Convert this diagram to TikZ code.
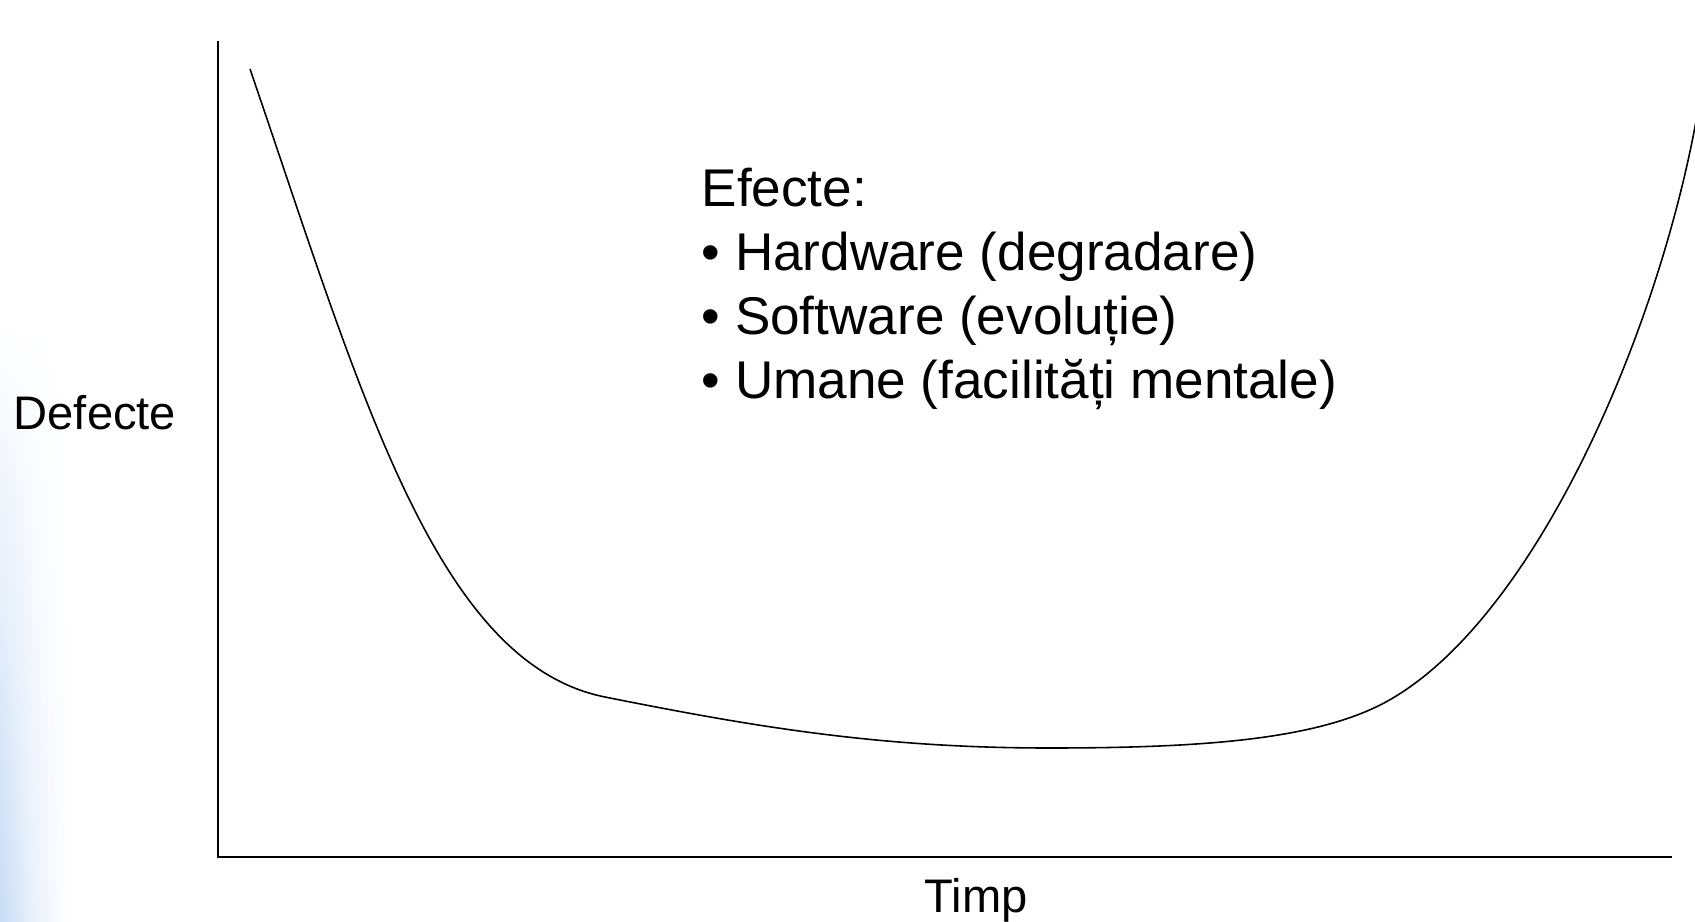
\documentclass[tikz,border=0pt]{standalone}
\usepackage{fontspec}
\setmainfont{Liberation Sans}
\usetikzlibrary{fadings}
\tikzfading[name=fadeup, top color=transparent!100, bottom color=transparent!0]
\definecolor{slideblue}{RGB}{200,219,244}
\begin{document}
\begin{tikzpicture}[x=0.01cm,y=-0.01cm,
  axis/.style={line width=0.7pt},
  curvestyle/.style={line width=0.45pt},
  axlabel/.style={inner sep=0pt, font=\fontsize{13.4}{15}\selectfont},
  listitem/.style={inner sep=0pt, anchor=base west, font=\fontsize{15.1}{18}\selectfont}]
\useasboundingbox (0,0) rectangle (1695,922);
% slide background fade at left edge
\shade[left color=slideblue, right color=white, middle color=slideblue!35, path fading=fadeup] (0,320) rectangle (70,922);
% axes
\coordinate (otop) at (218,41);
\coordinate (o) at (218,857);
\coordinate (xend) at (1672,857);
\draw[axis] (otop) -- (o) -- (xend);
% labels
\node[axlabel, anchor=base west] (ylab) at (13,430) {Defecte};
\node[axlabel, anchor=base west] (xlab) at (924,912) {Timp};
% list
\node[listitem] (l0) at (701,207) {Efecte:};
\node[listitem] (l1) at (701,271) {• Hardware (degradare)};
\node[listitem] (l2) at (701,335) {• Software (evoluție)};
\node[listitem] (l3) at (701,399) {• Umane (facilități mentale)};
% bathtub curve
\coordinate (cA) at (250,69);
\coordinate (cB) at (605,697);
\coordinate (cC) at (1049,748);
\coordinate (cD) at (1384,703);
\coordinate (cE) at (1698,110);
\begin{scope}
\clip (0,0) rectangle (1695,922);
\draw[curvestyle] (cA) .. controls (360,390) and (435,663) .. (cB)
  .. controls (755,727) and (880,748) .. (cC)
  .. controls (1200,748) and (1314,740) .. (cD)
  .. controls (1534,623) and (1660,330) .. (cE);
\end{scope}
\end{tikzpicture}
\end{document}
